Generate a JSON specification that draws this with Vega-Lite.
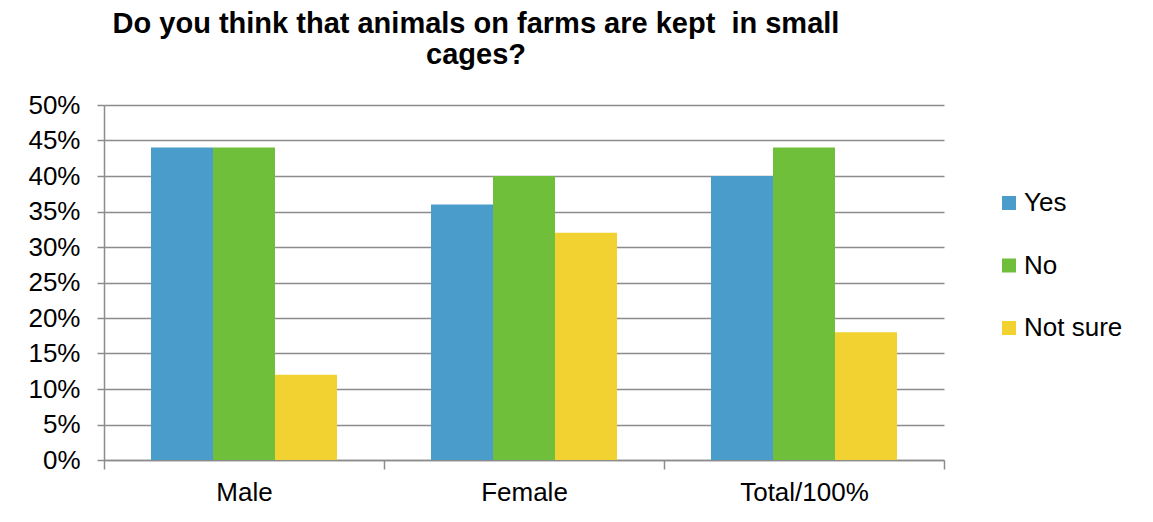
{
  "$schema": "https://vega.github.io/schema/vega-lite/v6.json",
  "width": 840,
  "height": 355,
  "autosize": {"type": "none"},
  "padding": {"left": 104, "top": 105, "right": 209, "bottom": 62},
  "background": "white",
  "title": {
    "text": ["Do you think that animals on farms are kept\u00a0 in small", "cages?"],
    "font": "Liberation Sans",
    "fontSize": 29,
    "fontWeight": "bold",
    "color": "#000000",
    "anchor": "middle",
    "dx": -48,
    "offset": 22,
    "lineHeight": 31
  },
  "data": {
    "values": [
      {"group": "Male", "answer": "Yes", "pct": 0.44},
      {"group": "Male", "answer": "No", "pct": 0.44},
      {"group": "Male", "answer": "Not sure", "pct": 0.12},
      {"group": "Female", "answer": "Yes", "pct": 0.36},
      {"group": "Female", "answer": "No", "pct": 0.40},
      {"group": "Female", "answer": "Not sure", "pct": 0.32},
      {"group": "Total/100%", "answer": "Yes", "pct": 0.40},
      {"group": "Total/100%", "answer": "No", "pct": 0.44},
      {"group": "Total/100%", "answer": "Not sure", "pct": 0.18}
    ]
  },
  "mark": {"type": "bar"},
  "encoding": {
    "x": {
      "field": "group",
      "type": "nominal",
      "sort": ["Male", "Female", "Total/100%"],
      "scale": {"paddingInner": 0, "paddingOuter": 0},
      "axis": {
        "title": null,
        "labelAngle": 0,
        "labelFont": "Liberation Sans",
        "labelFontSize": 26,
        "labelColor": "#000000",
        "labelPadding": 10,
        "tickSize": 9,
        "tickColor": "#8c8c8c",
        "tickWidth": 1.5,
        "tickBand": "extent",
        "domainColor": "#8c8c8c",
        "domainWidth": 1.5,
        "grid": false
      }
    },
    "xOffset": {
      "field": "answer",
      "type": "nominal",
      "sort": ["Yes", "No", "Not sure"],
      "scale": {"paddingInner": 0, "paddingOuter": 0.758}
    },
    "y": {
      "field": "pct",
      "type": "quantitative",
      "scale": {"domain": [0, 0.5], "nice": false},
      "axis": {
        "title": null,
        "format": ".0%",
        "values": [0, 0.05, 0.1, 0.15, 0.2, 0.25, 0.3, 0.35, 0.4, 0.45, 0.5],
        "labelFont": "Liberation Sans",
        "labelFontSize": 26,
        "labelColor": "#000000",
        "labelPadding": 17,
        "tickSize": 7,
        "tickColor": "#8c8c8c",
        "tickWidth": 1.5,
        "domainColor": "#8c8c8c",
        "domainWidth": 1.5,
        "grid": true,
        "gridColor": "#8c8c8c",
        "gridWidth": 1.5
      }
    },
    "color": {
      "field": "answer",
      "type": "nominal",
      "sort": ["Yes", "No", "Not sure"],
      "scale": {"domain": ["Yes", "No", "Not sure"], "range": ["#4A9CCB", "#6FBF3A", "#F2D230"]},
      "legend": {
        "title": null,
        "orient": "none",
        "legendX": 892,
        "legendY": 85,
        "symbolType": "square",
        "symbolSize": 196,
        "symbolStrokeWidth": 0,
        "symbolOpacity": 1,
        "labelFont": "Liberation Sans",
        "labelFontSize": 26,
        "labelColor": "#000000",
        "labelOffset": 2,
        "rowPadding": 36.5
      }
    }
  },
  "config": {
    "view": {"stroke": null}
  }
}
